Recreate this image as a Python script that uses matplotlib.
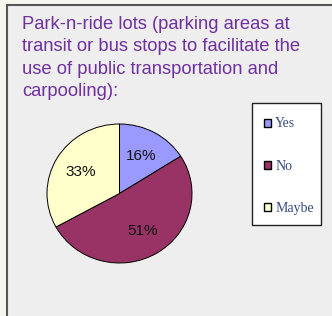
import matplotlib
matplotlib.use('Agg')
import matplotlib.pyplot as plt
from matplotlib.patches import Rectangle

labels = ['Yes', 'No', 'Maybe']
values = [16, 51, 33]
colors = ['#9999ff', '#993366', '#ffffcc']
title = ('Park-n-ride lots (parking areas at\n'
         'transit or bus stops to facilitate the\n'
         'use of public transportation and\n'
         'carpooling):')

W, H = 332, 316
fig = plt.figure(figsize=(W / 100, H / 100), dpi=100)
fig.patch.set_facecolor('#f6f6f1')

# panel background with dark left / top border
fig.patches.append(Rectangle((7 / W, -0.1), 1.0, (H - 5) / H + 0.1,
                             transform=fig.transFigure, facecolor='#eeeeee',
                             edgecolor='#555555', linewidth=1.5, zorder=-5))

fig.text(22 / W, 1 - 16 / H, title, color='#7030a0', fontsize=13.2,
         family='Liberation Sans', va='top', ha='left', linespacing=1.42)

# pie (slightly wider than tall, like the reference)
cx, cy, rx, ry = 119.5, 193.5, 72.5, 69.5
lim = 1.02
ax = fig.add_axes([(cx - rx * lim) / W, (H - cy - ry * lim) / H,
                   2 * rx * lim / W, 2 * ry * lim / H])
wedges, texts, autotexts = ax.pie(values, colors=colors, startangle=90, counterclock=False,
                                  autopct='%d%%', pctdistance=0.62,
                                  wedgeprops=dict(edgecolor='black', linewidth=0.7),
                                  textprops=dict(fontsize=11, family='Liberation Sans', color='#111111'))
ax.set_aspect('auto')
ax.set_xlim(-lim, lim)
ax.set_ylim(-lim, lim)

# legend box
fig.patches.append(Rectangle((252 / W, 1 - 225 / H), 69 / W, 122 / H,
                             transform=fig.transFigure, facecolor='white',
                             edgecolor='#222222', linewidth=1.0, zorder=-1))
leg = fig.legend(wedges, labels, loc='center left', bbox_to_anchor=(264 / W, 1 - 166 / H),
                 frameon=False, prop=dict(family='Liberation Serif', size=10),
                 labelcolor='#3a4a80', handlelength=0.5, handleheight=0.5,
                 handletextpad=0.3, labelspacing=2.09, borderpad=0, borderaxespad=0)
for h in leg.legend_handles:
    h.set_linewidth(1.0)

plt.savefig('out.png', dpi=100, facecolor=fig.get_facecolor())
